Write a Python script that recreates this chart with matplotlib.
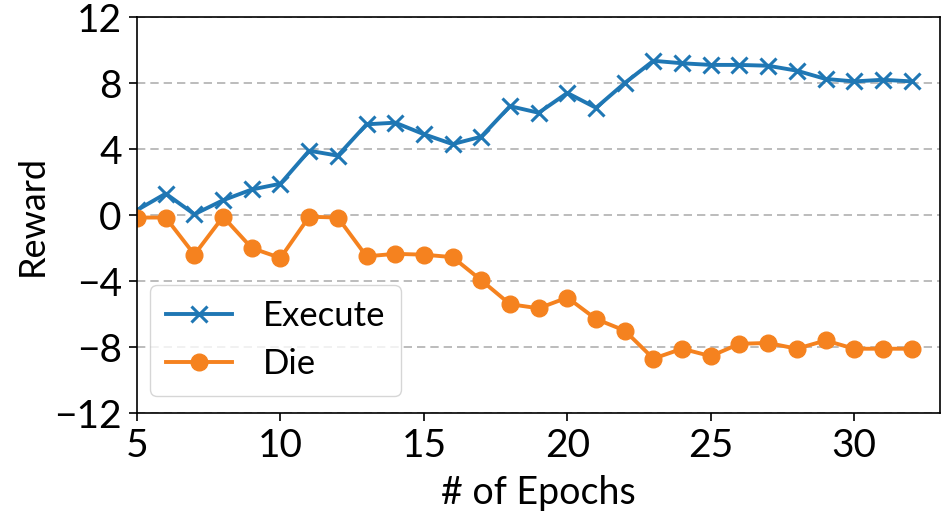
import matplotlib
matplotlib.use("Agg")
import matplotlib.pyplot as plt

plt.rcParams["font.family"] = ["Lato", "DejaVu Sans"]

epochs = list(range(5, 33))
execute = [0.3, 1.3, 0.05, 0.9, 1.55, 1.9, 3.9, 3.6, 5.5, 5.6, 4.9, 4.3, 4.75, 6.6,
           6.2, 7.4, 6.5, 8.0, 9.35, 9.2, 9.1, 9.1, 9.05, 8.75, 8.25, 8.1, 8.2, 8.1]
die = [-0.15, -0.15, -2.4, -0.1, -2.0, -2.6, -0.1, -0.15, -2.5, -2.35, -2.4, -2.55, -3.95, -5.4,
       -5.65, -5.0, -6.3, -7.0, -8.7, -8.1, -8.55, -7.8, -7.75, -8.1, -7.6, -8.1, -8.1, -8.1]
yticks = [-12, -8, -4, 0, 4, 8, 12]
xticks = [5, 10, 15, 20, 25, 30]

fig = plt.figure(figsize=(9.45, 5.17), dpi=100)
ax = fig.add_axes([0.145, 0.201, 0.85, 0.766])

ax.plot(epochs, execute, color="#1f77b4", marker="x", markersize=12, markeredgewidth=2.2,
        linewidth=2.8, label="Execute")
ax.plot(epochs, die, color="#f5821f", marker="o", markersize=12,
        linewidth=2.8, label="Die")

ax.set_xlim(5, 33)
ax.set_ylim(-12, 12)
ax.set_xticks(xticks)
ax.set_yticks(yticks)
ax.grid(axis="y", linestyle="--", color="#b0b0b0", linewidth=1.2, dashes=(5, 3))
ax.set_axisbelow(True)
ax.tick_params(labelsize=28, length=6, width=1.2, pad=5)
for s in ax.spines.values():
    s.set_linewidth(1.2)

ax.set_xlabel("# of Epochs", fontsize=27, labelpad=8)
ax.set_ylabel("Reward", fontsize=26, labelpad=4)

ax.legend(loc="lower left", fontsize=25, bbox_to_anchor=(-0.005, 0.0), handlelength=1.9,
          handletextpad=0.9, borderpad=0.45, labelspacing=0.45)

fig.savefig("out.png")
